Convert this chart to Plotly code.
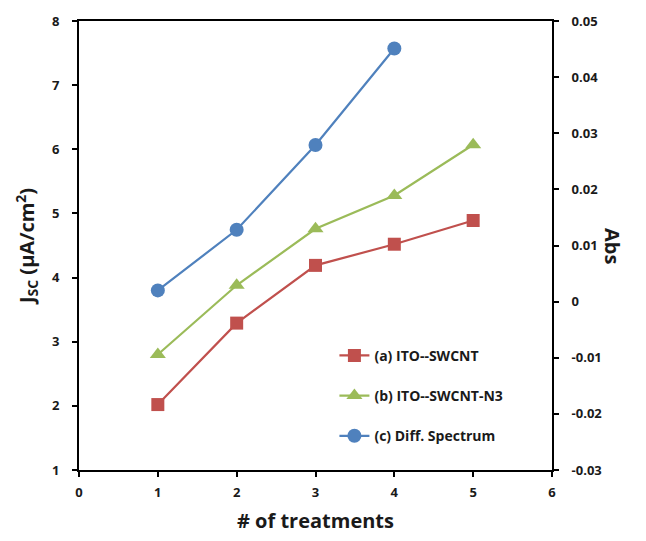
import plotly.graph_objects as go

treatments_ab = [1, 2, 3, 4, 5]
jsc_a = [2.02, 3.29, 4.19, 4.52, 4.89]
jsc_b = [2.8, 3.88, 4.76, 5.28, 6.07]
treatments_c = [1, 2, 3, 4]
abs_c = [0.002, 0.0128, 0.0279, 0.0451]

abs_tickvals = [-0.03, -0.02, -0.01, 0, 0.01, 0.02, 0.03, 0.04, 0.05]
abs_ticktext = ["-0.03", "-0.02", "-0.01", "0", "0.01", "0.02", "0.03", "0.04", "0.05"]

names = ["(a) ITO--SWCNT", "(b) ITO--SWCNT-N3", "(c) Diff. Spectrum"]
colors = ["#C0504D", "#9BBB59", "#4F81BD"]

FONT = "Open Sans"

fig = go.Figure()
fig.add_trace(go.Scatter(x=treatments_ab, y=jsc_a, name=names[0], mode="lines+markers",
                         line=dict(color=colors[0], width=2.2),
                         marker=dict(symbol="square", size=13, color=colors[0]),
                         legendgroup="a"))
fig.add_trace(go.Scatter(x=treatments_ab, y=jsc_b, name=names[1], mode="lines+markers",
                         line=dict(color=colors[1], width=2.2),
                         marker=dict(symbol="triangle-up", size=14, color=colors[1]),
                         legendgroup="b"))
fig.add_trace(go.Scatter(x=treatments_c, y=abs_c, name=names[2], mode="lines+markers",
                         line=dict(color=colors[2], width=2.2),
                         marker=dict(symbol="circle", size=14, color=colors[2]),
                         yaxis="y2", legendgroup="c"))

tickfont = dict(family=FONT, size=13, color="#1a1a1a", weight="bold")
fig.update_layout(
    width=646, height=541,
    margin=dict(l=79, r=94, t=18, b=71),
    paper_bgcolor="white", plot_bgcolor="white",
    font=dict(family=FONT, color="#1a1a1a"),
    xaxis=dict(range=[0, 6], dtick=1, showgrid=False, zeroline=False,
               showline=True, linecolor="black", linewidth=2, mirror=True,
               ticks="outside", ticklen=5, tickwidth=2, tickcolor="black",
               tickfont=tickfont, ticklabelstandoff=4,
               title=dict(text="# of treatments", standoff=14,
                          font=dict(family=FONT, size=20, color="#1a1a1a", weight="bold"))),
    yaxis=dict(range=[1, 8], dtick=1, showgrid=False, zeroline=False,
               showline=True, linecolor="black", linewidth=2,
               ticks="outside", ticklen=5, tickwidth=2, tickcolor="black",
               tickfont=tickfont, ticklabelstandoff=10,
               title=dict(text="J<sub>SC</sub> (µA/cm<sup>2</sup>)", standoff=12,
                          font=dict(family=FONT, size=20, color="#1a1a1a", weight="bold"))),
    yaxis2=dict(range=[-0.03, 0.05], overlaying="y", side="right",
                tickvals=abs_tickvals, ticktext=abs_ticktext,
                showgrid=False, zeroline=False,
                showline=True, linecolor="black", linewidth=2,
                ticks="outside", ticklen=5, tickwidth=2, tickcolor="black",
                tickfont=tickfont, ticklabelstandoff=10),
    legend=dict(x=0.54, y=0.29, xanchor="left", yanchor="top",
                bgcolor="rgba(0,0,0,0)", traceorder="grouped", tracegroupgap=19,
                font=dict(family=FONT, size=14, color="#1a1a1a", weight="bold")),
    annotations=[dict(text="Abs", xref="paper", yref="paper", x=1.128, y=0.5,
                      xanchor="center", yanchor="middle",
                      showarrow=False, textangle=90,
                      font=dict(family=FONT, size=20, color="#1a1a1a", weight="bold"))],
)

fig.write_html("out.html")
